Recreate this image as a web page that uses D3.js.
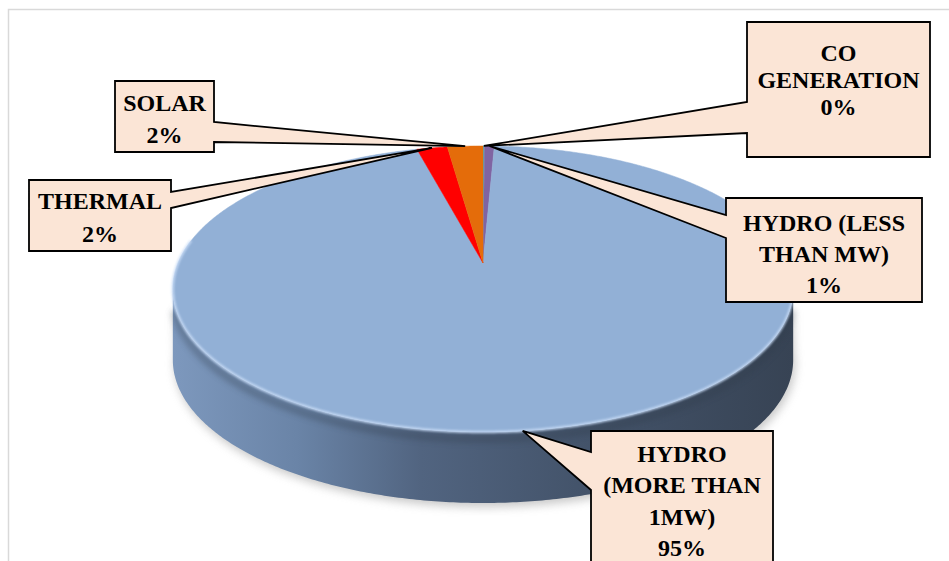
<!DOCTYPE html>
<html><head><meta charset="utf-8">
<script src="https://cdn.jsdelivr.net/npm/d3@7"></script>
<style>html,body{margin:0;padding:0;background:#fff;}svg{display:block;}</style>
</head><body>
<svg id="c" width="949" height="561"></svg>
<script>
// ---- data ----
const categories = ["CO GENERATION", "HYDRO (LESS THAN MW)", "HYDRO (MORE THAN 1MW)", "THERMAL", "SOLAR"];
const values = [0.1, 0.6, 95.2, 1.9, 2.2];
const labelLines = [["CO", "GENERATION"], ["HYDRO (LESS", "THAN MW)"], ["HYDRO", "(MORE THAN", "1MW)"], ["THERMAL"], ["SOLAR"]];

// ---- styles / layout ----
const colors = ["#4BACC6", "#8064A2", "#92B0D6", "#FF0000", "#E46C0A"];
const callouts = [
  {x0: 747, y0: 22, x1: 930, y1: 157, side: "left", ya: 102, yb: 133, baselines: [61, 88, 115]},
  {x0: 726, y0: 198, x1: 922, y1: 302, side: "left", ya: 215, yb: 238, baselines: [231, 262, 293]},
  {x0: 591, y0: 431, x1: 773, y1: 580, side: "left", ya: 452, yb: 490, baselines: [462, 493, 525, 556]},
  {x0: 29, y0: 180, x1: 171, y1: 251, side: "right", ya: 192, yb: 208, baselines: [209, 242]},
  {x0: 115, y0: 81, x1: 214, y1: 152, side: "right", ya: 122, yb: 142, baselines: [111, 143]}
];

const svg = d3.select("#c");
const W = 949, H = 561;

// chart area border
svg.append("path").attr("d", "M8.5,570V9.5H960").attr("fill", "none").attr("stroke", "#D9D9D9").attr("stroke-width", 1.5);

// perspective projection of the tilted disc
const cx = 483, cy = 263, A = 305, B = 138.3, k = 0.1818, depth = 71;
function P(t, dy = 0) {
  const w = 1 + k * Math.cos(t);
  return [cx + A * Math.sin(t) / w, cy - B * Math.cos(t) / w + dy];
}
function arcPts(a0, a1, dy = 0) {
  const n = Math.max(2, Math.ceil(Math.abs(a1 - a0) / 0.01));
  return d3.range(n + 1).map(i => P(a0 + (a1 - a0) * i / n, dy));
}
const line = d3.line();

const pie = d3.pie().sort(null).value(d => d).startAngle(0).endAngle(2 * Math.PI);
const arcs = pie(values);
const total = d3.sum(values);

const defs = svg.append("defs");
const blur = defs.append("filter").attr("id", "blur").attr("x", "-20%").attr("y", "-20%").attr("width", "140%").attr("height", "140%");
blur.append("feGaussianBlur").attr("stdDeviation", 5);
const blur2 = defs.append("filter").attr("id", "blur2").attr("x", "-20%").attr("y", "-20%").attr("width", "140%").attr("height", "140%");
blur2.append("feGaussianBlur").attr("stdDeviation", 1.2);
const blur3 = defs.append("filter").attr("id", "blur3").attr("x", "-20%").attr("y", "-50%").attr("width", "140%").attr("height", "200%");
blur3.append("feGaussianBlur").attr("stdDeviation", 3);

const sideGrad = defs.append("linearGradient").attr("id", "side").attr("gradientUnits", "userSpaceOnUse")
  .attr("x1", 173).attr("x2", 793).attr("y1", 0).attr("y2", 0);
[[0, "#7D98BD"], [0.2, "#6A84A7"], [0.4, "#516480"], [0.65, "#44546B"], [1, "#374354"]]
  .forEach(([o, c]) => sideGrad.append("stop").attr("offset", o).attr("stop-color", c));

// silhouette angles (left- and right-most points)
const tR = Math.acos(-k), tL = 2 * Math.PI - tR;

// shadow
const sideOutline = arcPts(tR - 0.05, tL + 0.05).concat(arcPts(tL + 0.05, tR - 0.05, depth).reverse());
svg.append("path").attr("d", line(arcPts(tR, tL, depth).concat(arcPts(tL, tR, depth + 2)).map(p => [p[0] + 3, p[1] + 4])) )
  .attr("fill", "none");
svg.append("path")
  .attr("d", line(arcPts(tR - 0.1, tL + 0.1, depth + 4).map(p => [p[0] + 2, p[1]]).concat(arcPts(tL, tR, 10))) + "Z")
  .attr("fill", "#9A9A9A").attr("opacity", 0.55).attr("filter", "url(#blur)");

// side wall (front of the large slice)
const sidePts = arcPts(tR, tL).concat(arcPts(tL, tR, depth));
svg.append("path").attr("d", line(sidePts) + "Z").attr("fill", "url(#side)");
// bevel darkening just under the rim
svg.append("path").attr("d", line(arcPts(tR + 0.1, tL - 0.1, 7)))
  .attr("fill", "none").attr("stroke", "#2E3A4A").attr("stroke-width", 7).attr("opacity", 0.35).attr("filter", "url(#blur3)");

// top surface slices
svg.append("g").selectAll("path").data(arcs).join("path")
  .attr("d", d => line([[cx, cy]].concat(arcPts(d.startAngle, d.endAngle))) + "Z")
  .attr("fill", (d, i) => colors[i])
  .attr("stroke", (d, i) => colors[i]).attr("stroke-width", 0.5);

// rim highlight
svg.append("path").attr("d", line(arcPts(tR - 0.35, tL + 0.35)))
  .attr("fill", "none").attr("stroke", "#C8DCF6").attr("stroke-width", 2.5).attr("opacity", 0.9).attr("filter", "url(#blur2)");

// callouts
const g = svg.append("g");
arcs.forEach((d, i) => {
  const c = callouts[i];
  const tip = P((d.startAngle + d.endAngle) / 2);
  let path;
  if (c.side === "left") {
    path = `M${c.x0},${c.y0}H${c.x1}V${c.y1}H${c.x0}V${c.yb}L${tip[0]},${tip[1]}L${c.x0},${c.ya}Z`;
  } else {
    path = `M${c.x0},${c.y0}H${c.x1}V${c.ya}L${tip[0]},${tip[1]}L${c.x1},${c.yb}V${c.y1}H${c.x0}Z`;
  }
  g.append("path").attr("d", path).attr("fill", "#FBE5D6").attr("stroke", "#000")
    .attr("stroke-width", 1.8).attr("stroke-linejoin", "miter");
  const lines = labelLines[i].concat([Math.round(d.value / total * 100) + "%"]);
  const mx = (c.x0 + c.x1) / 2;
  lines.forEach((t, j) => {
    g.append("text").attr("x", mx).attr("y", c.baselines[j]).attr("text-anchor", "middle")
      .attr("font-family", "'Liberation Serif', 'Times New Roman', serif").attr("font-weight", "bold")
      .attr("font-size", 24).attr("fill", "#000").text(t);
  });
});
</script>
</body></html>
